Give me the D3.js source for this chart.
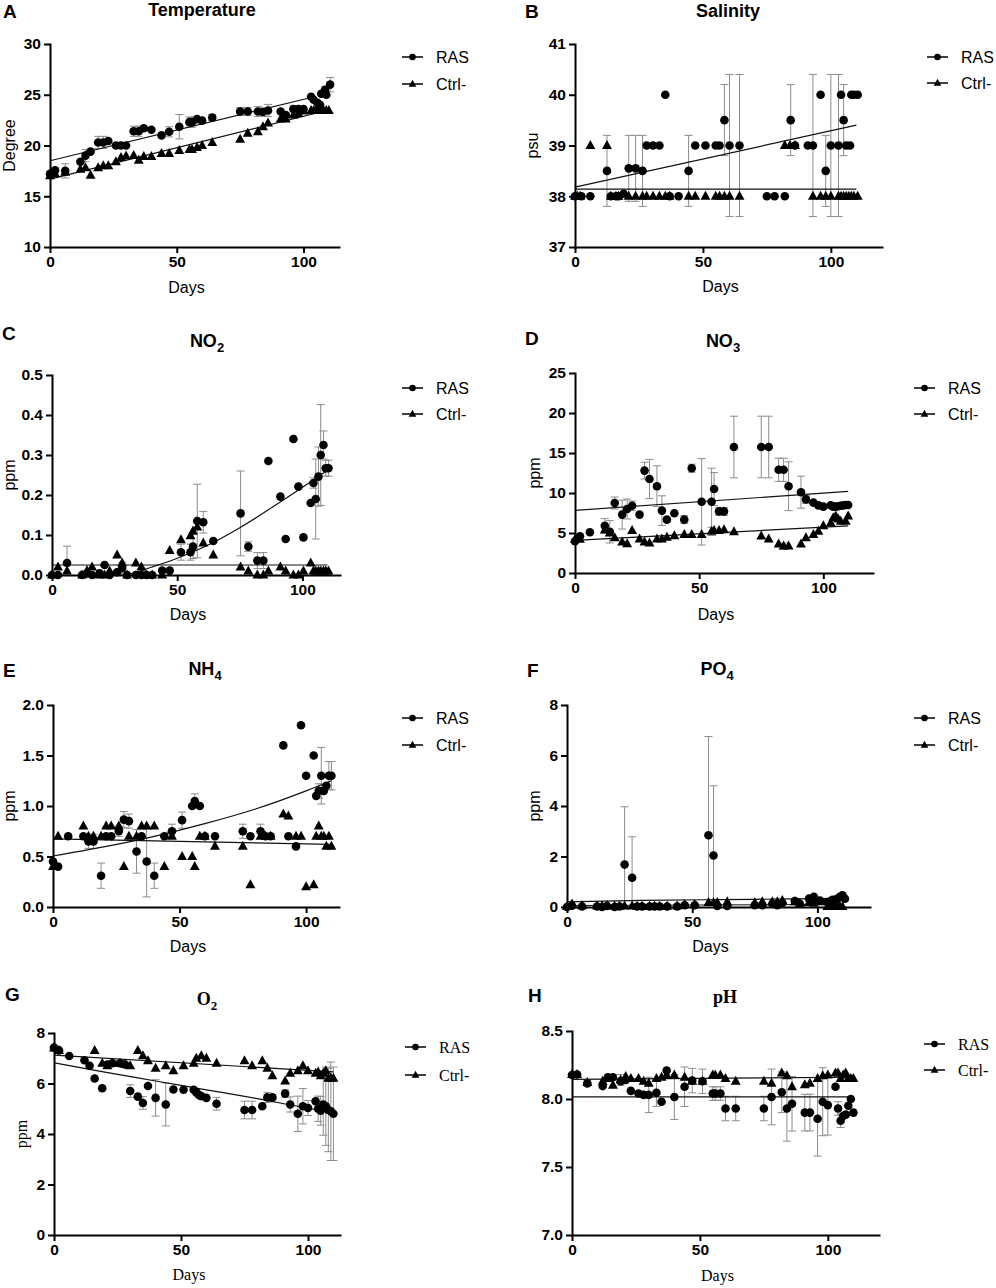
<!DOCTYPE html>
<html>
<head>
<meta charset="utf-8">
<script src="https://cdn.jsdelivr.net/npm/d3@7"></script>
<style>
  body { margin: 0; background: #fff; }
</style>
</head>
<body>
<svg width="996" height="1288"></svg>
<script>
// ---- data: [day, mean, sd] ----
const xTicks = [0, 50, 100];

const tempRAS = [[0,17.2,0.3],[2,17.55],[6,17.5,0.7],[12,18.4],[14,19.0,0.6],[16,19.4],[19,20.3,0.6],[21,20.3,0.6],[23,20.45],[26,20.0],[28,20.0],[30,20.0],[33,21.4,0.5],[35,21.4,0.5],[37,21.7],[40,21.55],[44,21.0],[47,21.35,0.5],[51,21.85,1.2],[55,22.3,0.5],[56,22.3,0.5],[58,22.6],[60,22.45],[64,22.75,0.3],[75,23.35,0.4],[78,23.35,0.4],[82,23.35,0.5],[84,23.3,0.4],[86,23.45,0.6],[91,23.35],[93,23.0],[96,23.6,0.3],[98,23.6],[100,23.6],[103,24.8],[104,24.5],[105.5,24.2],[106.5,24.0],[107,25.1],[108.5,25.5,0.3],[109,25.0],[110.5,26.0,0.7]];
const tempCtrl = [[0,17.0],[2,17.2],[6,17.35],[12,17.65],[14,17.8],[16,17.05],[19,17.8],[21,18.0],[23,18.0],[26,18.4],[28,18.8],[30,18.95],[33,19.0],[35,18.55],[37,18.9],[40,18.9],[44,19.2],[47,19.2],[51,19.5],[55,19.6],[56,19.6],[58,19.8],[60,20.0],[64,20.3],[75,20.6],[78,21.2],[82,21.35],[84,21.85],[86,22.2],[91,22.6],[93,22.6],[96,23.0],[98,23.15],[100,23.4],[103,23.45],[104,23.45],[105,23.45],[106,23.45],[107,23.45],[108,23.45],[109,23.45],[110,23.45]];
const tempRASFit = [[0,18.5],[103.5,24.75]];
const tempCtrlFit = [[0,16.68],[110,23.5]];
const tempTicks = [10, 15, 20, 25, 30];

const salRAS = [[0,38],[2.5,38],[6,38],[12.5,38.5,0.7],[14,38],[16,38],[17,38],[19,38.05],[21,38.55,0.65],[23.7,38.55,0.65],[26.4,38.5,0.7],[28,39],[30.5,39],[33,39],[35.3,40],[37,38],[40.5,38],[44.4,38.5,0.7],[47,39],[51,39],[55,39],[56.5,39],[58.4,39.5,0.7],[60.4,39,1.4],[64.3,39,1.4],[75,38],[78,38],[82,38],[84.3,39.5,0.7],[86,39],[91,39],[93,39,1.4],[96,40],[98,38.5,0.7],[100,39,1.4],[103,39,1.4],[104,40],[105,39.5,0.7],[106,39],[107.5,39],[108,40],[109,40],[110.5,40]];
const salCtrl = [[0,38],[1,38],[2,38],[6,39],[12.5,39],[14,38],[16,38],[17,38],[21,38],[23.7,38],[26.4,38],[28,38],[30.5,38],[33,38],[35.3,38],[37,38],[44.4,38],[47,38],[51,38],[55,38],[56.5,38],[58.4,38],[60.4,38],[64.3,38],[82,39],[84,39],[86,39],[93,38],[96,38],[98,38],[100,38],[103,38],[104,38],[105,38],[106,38],[107,38],[108,38],[109,38],[110.5,38]];
const salRASFit = [[0,38.18],[110,39.4]];
const salCtrlFit = [[0,38.14],[110,38.14]];
const salTicks = [37, 38, 39, 40, 41];

const no2RAS = [[0,0],[2.4,0],[6,0.03,0.042],[12,0],[14,0.004],[16,0],[19,0.004],[21,0.025],[23,0],[26,0.007],[28,0.017,0.015],[30,0],[33.5,0],[35.7,0],[37.7,0],[40,0],[44,0.011],[47,0.011],[51.5,0.057,0.02],[55.3,0.057,0.02],[56.3,0.071,0.03],[58,0.135,0.092],[60.4,0.132,0.027],[64.4,0.085],[75.3,0.154,0.106],[78.4,0.071,0.012],[82,0.036,0.02],[84.4,0.036,0.02],[86.4,0.285],[91.2,0.196],[93.3,0.09],[96.4,0.34],[98.4,0.221],[100.4,0.094],[103.3,0.18],[104.4,0.23,0.013],[105.3,0.19,0.1],[106.4,0.246,0.074],[107.3,0.30,0.126],[108.4,0.325,0.035],[109.3,0.267,0.02],[110.4,0.267,0.02]];
const no2Ctrl = [[0,0],[2.4,0.02],[6,0.01],[12,0],[14,0.011],[16,0.02],[19,0],[21,0],[23,0.01],[26,0.05],[28,0.03],[30,0],[33.5,0.03],[35.7,0.02],[37.7,0],[40,0],[44,0],[47,0.061],[51.5,0.088],[55.3,0.098],[56.3,0.11],[58,0.12],[60.4,0.08],[64.4,0.05],[75.3,0.02],[78.4,0.01],[82,0],[84.4,0],[86.4,0.01],[91.2,0.02],[93.3,0.01],[96.4,0],[98.4,0],[100.4,0.01],[103.3,0.03],[104.4,0.01],[105.3,0.01],[106.4,0.01],[107.3,0.01],[108.4,0.01],[109.3,0.01],[110.4,0.01]];
const no2RASFit = [[30,0.0],[40,0.02],[50,0.042],[64,0.08],[75,0.118],[91,0.182],[103,0.232],[110,0.262]];
const no2CtrlFit = [[0,0.025],[110,0.025]];
const no2Ticks = [0, 0.1, 0.2, 0.3, 0.4, 0.5];

const no3RAS = [[0,3.96],[2,4.6],[6,5.1],[12,5.9,0.9],[14,5.15,1.4],[16,8.75,0.75],[19,7.3,1.8],[21,8.0,1.25],[23,8.4,0.6],[26,7.3],[28,12.8,1.05],[30,11.75,2.45],[33,10.85,2.55],[35,7.8,1.85],[37,6.67],[40,7.46],[44,6.67,0.5],[47,13.1,0.5],[51,8.9,5.4],[55,8.9,4.2],[56,10.5,2.05],[58,7.7,0.5],[60,7.7,0.5],[64,15.75,3.85],[75,15.75,3.85],[78,15.75,3.85],[82,12.9,1.45],[84,12.9,1.45],[86,10.85,3.05],[91,10.1,2.0],[93,9.2,0.5],[96,8.8],[98,8.45],[100,8.3,0.3],[103,8.45],[104,8.3],[105,8.3],[106,8.35],[107,8.4],[108,8.45],[109,8.5],[110,8.5]];
const no3Ctrl = [[0,4.2],[2,4.2],[12,5.35],[14,5.0],[16,4.4],[19,3.85],[21,3.65],[23,5.3],[26,4.25],[28,3.85],[30,3.75],[33,4.25],[35,4.25],[37,4.45],[40,4.65],[44,4.8],[47,4.8],[51,4.8],[55,5.2,0.5],[56,5.3],[58,5.3],[60,5.4],[64,5.15],[75,4.6],[78,4.25],[82,3.6],[84,3.35,0.4],[86,3.35],[91,3.6],[93,4.4],[96,4.8],[98,5.2],[100,5.9],[103,6.25],[104,6.9],[105,7.1],[106,6.75],[107,6.45],[109,6.45],[110,7.1]];
const no3RASFit = [[0,7.83],[110,10.2]];
const no3CtrlFit = [[0,4.08],[110,5.9]];
const no3Ticks = [0, 5, 10, 15, 20, 25];

const nh4RAS = [[0,0.45],[2,0.40],[6,0.70],[12,0.70],[14,0.65,0.07],[16,0.65,0.07],[19,0.31,0.125],[21,0.70],[23,0.70],[26,0.75,0.05],[28,0.865,0.08],[30,0.85,0.07],[33,0.55,0.215],[35,0.70],[37,0.45,0.35],[40,0.31,0.125],[44,0.70],[47,0.75,0.07],[51,0.86,0.08],[55,1.0],[56,1.05,0.07],[58,1.0],[60,0.70],[64,0.70],[75,0.75,0.07],[78,0.70],[82,0.75,0.07],[84,0.70],[86,0.70],[91,1.6],[93,0.70],[96,0.60],[98,1.8],[100,1.3],[103,1.5],[104,1.1],[105,1.15,0.07],[106,1.3,0.28],[107,1.15],[108,1.2],[109,1.3,0.14],[110,1.3,0.14]];
const nh4Ctrl = [[0,0.4],[2,0.7],[12,0.8],[14,0.7],[16,0.7],[19,0.7],[21,0.8],[23,0.8],[26,0.8],[28,0.4],[30,0.7],[33,0.7],[35,0.8],[37,0.8],[40,0.8],[44,0.4],[47,0.7],[51,0.5],[55,0.5],[56,0.4],[58,0.7],[60,0.7],[64,0.6],[75,0.6],[78,0.22],[82,0.7],[84,0.7],[86,0.7],[91,0.92],[93,0.9],[96,0.7],[98,0.7],[100,0.2],[103,0.22],[104,0.7],[105,0.8],[106,0.7],[107,0.7],[108,0.6],[109,0.7],[110,0.6]];
const nh4RASFit = [[0,0.505],[20,0.595],[40,0.70],[60,0.825],[80,0.97],[100,1.15],[110,1.25]];
const nh4CtrlFit = [[0,0.675],[110,0.62]];
const nh4Ticks = [0, 0.5, 1.0, 1.5, 2.0];

const po4RAS = [[0,0],[2,0.05],[6,0.02],[12,0.02],[14,0],[16,0.04],[19,0],[21,0.02],[23,1.68,2.29],[26,1.16,1.62],[28,0.02],[30,0.02],[33,0.02],[35,0.02],[37,0.02],[40,0.02],[44,0.02],[47,0.07],[51,0.07],[56.5,2.84,3.91],[58.5,2.04,2.76],[60,0.04],[64,0.04],[75,0.07],[78,0.07],[82,0.13],[84,0.07],[86,0.16],[91,0.24],[93,0.13],[96.6,0.33],[98.6,0.4],[101,0.26],[104,0.2],[105,0.22],[106,0.29],[107,0.29],[108,0.33],[109,0.4],[110,0.46],[111,0.33]];
const po4Ctrl = [[0,0.02],[2,0.12],[6,0.05],[12,0.04],[14,0.04],[16,0.05],[19,0.03],[21,0.03],[23,0.04],[26,0.04],[28,0.03],[30,0.03],[33,0.03],[35,0.03],[37,0.03],[40,0.03],[44,0.04],[47,0.1],[51,0.1],[56.5,0.18],[58.5,0.18],[60,0.18],[64,0.2],[75,0.17],[78,0.2],[82,0.2],[84,0.2],[86,0.25],[91,0.2],[93,0.15],[96.6,0.18],[98.6,0.15],[101,0.2],[104,0.02],[105,0.02],[106,0.02],[107,0.02],[108,0.02],[109,0.02],[110,0.02]];
const po4RASFit = [[0,0.2],[30,0.26],[60,0.29],[90,0.32],[110,0.34]];
const po4CtrlFit = [[0,0.06],[110,0.1]];
const po4Ticks = [0, 2, 4, 6, 8];

const o2RAS = [[0,7.42],[2,7.31],[6,7.09],[12,6.92],[14,6.7],[16,6.2],[19,5.81],[21,6.75],[23,6.8],[26,6.8],[28,6.75],[30,5.7,0.25],[33,5.48],[35,5.23,0.25],[37,5.9],[40,5.43,0.72],[44,5.17,0.85],[47,5.76],[51,5.75],[55,5.75],[56,5.65],[57,5.55],[58,5.5],[60,5.43],[64,5.2,0.25],[75,4.95,0.35],[78,4.95,0.35],[82,5.1],[84,5.45,0.2],[86,5.45],[91,5.6,0.15],[93,5.17,0.3],[96,4.8,0.7],[98,5.1,0.7],[100,5.03,0.3],[103,5.3],[104,5.0,0.5],[105,4.92,0.57],[106,5.17,1.22],[107,5.1,1.55],[108,4.95,1.65],[109,4.9,1.95],[110,4.8,1.85]];
const o2Ctrl = [[0,7.4],[2,7.3],[16,7.3],[19,6.8],[21,6.7],[23,6.8],[26,6.8],[28,6.75],[30,6.7],[33,7.3],[35,7.1],[37,6.9],[40,6.6],[44,6.7],[47,6.5],[51,6.7],[55,6.8],[56,7.0],[58,7.1],[60,7.0],[64,6.8],[75,6.9],[78,6.7],[82,6.9],[84,6.6],[86,6.3],[91,6.1],[93,6.4],[96,6.5],[98,6.7],[100,6.5],[103,6.4],[104,6.45],[105,6.3],[106,6.4],[107,6.5],[108,6.2],[109,6.2],[110,6.2]];
const o2RASFit = [[0,6.82],[20,6.45],[40,6.1],[60,5.75],[80,5.4],[100,5.02],[110,4.85]];
const o2CtrlFit = [[0,7.12],[110,6.46]];
const o2Ticks = [0, 2, 4, 6, 8];

const phRAS = [[0,8.177],[2,8.18],[6,8.115],[12,8.095],[14,8.16],[16,8.16],[19,8.13],[21,8.14],[23,8.06],[26,8.04],[28,8.03],[30,8.03,0.13],[33,8.046,0.1],[35,7.98],[37,8.21],[40,8.015,0.165],[44,8.09,0.145],[47,8.135,0.09],[51,8.13,0.09],[55,8.04,0.05],[56,8.04,0.05],[58,8.04,0.05],[60,7.93,0.09],[64,7.93,0.09],[75,7.93,0.09],[78,8.015,0.205],[82,8.05,0.15],[84,7.93,0.24],[86,7.965,0.2],[91,7.9,0.135],[93,7.9,0.135],[96,7.855,0.275],[98,7.98,0.25],[100,7.955,0.22],[103,8.09],[104,7.93,0.05],[105,7.84,0.05],[106,7.875],[107,7.885],[108,7.95],[109,8.0],[110,7.9]];
const phCtrl = [[0,8.18],[2,8.18],[6,8.12],[12,8.13],[14,8.15],[16,8.1],[19,8.14,0.04],[21,8.165],[23,8.15],[26,8.15],[28,8.13],[30,8.115],[33,8.15],[35,8.16],[37,8.175],[40,8.175],[44,8.16],[47,8.13],[51,8.13],[55,8.175],[56,8.175],[58,8.175],[60,8.15],[64,8.13],[75,8.13],[78,8.115],[82,8.19],[84,8.17],[86,8.09],[91,8.105],[93,8.115],[96,8.15],[98,8.17],[100,8.175],[103,8.19],[104,8.19],[105,8.15],[106,8.175],[107,8.19],[108,8.15],[109,8.15],[110,8.15]];
const phRASFit = [[0,8.015],[110,8.015]];
const phCtrlFit = [[0,8.145],[110,8.16]];
const phTicks = [7.0, 7.5, 8.0, 8.5];

const seriesNames = ['RAS', 'Ctrl-'];

// ---- layout ----
const SANS = '"Liberation Sans", Arial, sans-serif';
const SERIF = '"Liberation Serif", "Times New Roman", serif';
const svg = d3.select('svg');

const panels = [
  { letter: 'A', letterPos: [3, 18], title: 'Temperature', sub: '', titlePos: [202, 16],
    ras: tempRAS, ctrl: tempCtrl, rasFit: tempRASFit, ctrlFit: tempCtrlFit,
    yTicks: tempTicks, fmt: d3.format('d'), ylabel: 'Degree', ylabelX: 15,
    box: { l: 50, r: 339, t: 44, b: 247 }, xMax: 114, daysY: 293, leg: [402, 57, 84], serif: false },
  { letter: 'B', letterPos: [525, 18], title: 'Salinity', sub: '', titlePos: [728, 17],
    ras: salRAS, ctrl: salCtrl, rasFit: salRASFit, ctrlFit: salCtrlFit,
    yTicks: salTicks, fmt: d3.format('d'), ylabel: 'psu', ylabelX: 538,
    box: { l: 575, r: 882, t: 44, b: 247 }, xMax: 120, daysY: 292, leg: [927, 57, 83], serif: false },
  { letter: 'C', letterPos: [2, 340], title: 'NO', sub: '2', titlePos: [207, 347],
    ras: no2RAS, ctrl: no2Ctrl, rasFit: no2RASFit, ctrlFit: no2CtrlFit,
    yTicks: no2Ticks, fmt: d3.format('.1f'), ylabel: 'ppm', ylabelX: 15,
    box: { l: 52, r: 340, t: 375, b: 575 }, xMax: 115, daysY: 620, leg: [402, 388, 414], serif: false },
  { letter: 'D', letterPos: [525, 345], title: 'NO', sub: '3', titlePos: [723, 347],
    ras: no3RAS, ctrl: no3Ctrl, rasFit: no3RASFit, ctrlFit: no3CtrlFit,
    yTicks: no3Ticks, fmt: d3.format('d'), ylabel: 'ppm', ylabelX: 540,
    box: { l: 575, r: 873, t: 373, b: 573 }, xMax: 120, daysY: 620, leg: [914, 388, 414], serif: false },
  { letter: 'E', letterPos: [3, 677], title: 'NH', sub: '4', titlePos: [205, 675],
    ras: nh4RAS, ctrl: nh4Ctrl, rasFit: nh4RASFit, ctrlFit: nh4CtrlFit,
    yTicks: nh4Ticks, fmt: d3.format('.1f'), ylabel: 'ppm', ylabelX: 15,
    box: { l: 53, r: 339, t: 705, b: 907 }, xMax: 113, daysY: 952, leg: [402, 718, 745], serif: false },
  { letter: 'F', letterPos: [527, 677], title: 'PO', sub: '4', titlePos: [717, 675],
    ras: po4RAS, ctrl: po4Ctrl, rasFit: po4RASFit, ctrlFit: po4CtrlFit,
    yTicks: po4Ticks, fmt: d3.format('d'), ylabel: 'ppm', ylabelX: 540,
    box: { l: 567, r: 870, t: 705, b: 907 }, xMax: 121, daysY: 952, leg: [914, 718, 745], serif: false },
  { letter: 'G', letterPos: [5, 1001], title: 'O', sub: '2', titlePos: [207, 1005],
    ras: o2RAS, ctrl: o2Ctrl, rasFit: o2RASFit, ctrlFit: o2CtrlFit,
    yTicks: o2Ticks, fmt: d3.format('d'), ylabel: 'ppm', ylabelX: 27,
    box: { l: 54, r: 340, t: 1033, b: 1235 }, xMax: 112.6, daysY: 1280, leg: [405, 1047, 1075], serif: true },
  { letter: 'H', letterPos: [528, 1002], title: 'pH', sub: '', titlePos: [725, 1003],
    ras: phRAS, ctrl: phCtrl, rasFit: phRASFit, ctrlFit: phCtrlFit,
    yTicks: phTicks, fmt: d3.format('.1f'), ylabel: '', ylabelX: 0,
    box: { l: 572, r: 879, t: 1031, b: 1235 }, xMax: 120, daysY: 1281, leg: [924, 1044, 1070], serif: true }
];

const triPath = s => `M0,${-s * 0.62}L${s * 0.55},${s * 0.38}L${-s * 0.55},${s * 0.38}Z`;

function drawPanel(p) {
  const yDom = d3.extent(p.yTicks);
  const x = d3.scaleLinear().domain([0, p.xMax]).range([p.box.l, p.box.r]);
  const y = d3.scaleLinear().domain(yDom).range([p.box.b, p.box.t]);
  const g = svg.append('g');
  const textFont = p.serif ? SERIF : SANS;

  // error bars
  const eb = g.append('g').attr('stroke', '#8c8c8c').attr('stroke-width', 1).attr('fill', 'none');
  [p.ras, p.ctrl].forEach(series => {
    series.filter(d => d[2]).forEach(d => {
      const lo = y(Math.max(yDom[0], d[1] - d[2]));
      const hi = y(Math.min(yDom[1], d[1] + d[2]));
      const cx = x(d[0]);
      eb.append('line').attr('x1', cx).attr('x2', cx).attr('y1', lo).attr('y2', hi);
      eb.append('line').attr('x1', cx - 4).attr('x2', cx + 4).attr('y1', hi).attr('y2', hi);
      if (d[1] - d[2] > yDom[0]) {
        eb.append('line').attr('x1', cx - 4).attr('x2', cx + 4).attr('y1', lo).attr('y2', lo);
      }
    });
  });

  // fit lines
  const line = d3.line().x(d => x(d[0])).y(d => y(d[1])).curve(d3.curveMonotoneX);
  [p.rasFit, p.ctrlFit].forEach(f => {
    g.append('path').datum(f).attr('d', line)
      .attr('fill', 'none').attr('stroke', '#111').attr('stroke-width', 1.2);
  });

  // markers
  g.append('g').selectAll('path').data(p.ctrl).join('path')
    .attr('transform', d => `translate(${x(d[0])},${y(d[1])})`)
    .attr('d', triPath(9)).attr('fill', '#000');
  g.append('g').selectAll('circle').data(p.ras).join('circle')
    .attr('cx', d => x(d[0])).attr('cy', d => y(d[1])).attr('r', 4.3).attr('fill', '#000');

  // axes
  const xAxis = d3.axisBottom(x).tickValues(xTicks).tickSize(6).tickSizeOuter(0).tickPadding(3);
  const yAxis = d3.axisLeft(y).tickValues(p.yTicks).tickFormat(p.fmt).tickSize(6).tickSizeOuter(0).tickPadding(3);
  const xg = g.append('g').attr('transform', `translate(0,${p.box.b})`).call(xAxis);
  const yg = g.append('g').attr('transform', `translate(${p.box.l},0)`).call(yAxis);
  [xg, yg].forEach(a => {
    a.select('.domain').attr('stroke-width', 2).attr('stroke-linecap', 'square');
    a.selectAll('.tick line').attr('stroke-width', 2);
    a.selectAll('.tick text').attr('font-family', SANS).attr('font-weight', 'bold')
      .attr('font-size', 15.5).attr('fill', '#000');
  });

  // panel letter
  svg.append('text').attr('x', p.letterPos[0]).attr('y', p.letterPos[1])
    .attr('font-family', SANS).attr('font-weight', 'bold').attr('font-size', 19).text(p.letter);

  // title with optional subscript
  const t = svg.append('text').attr('x', p.titlePos[0]).attr('y', p.titlePos[1])
    .attr('text-anchor', 'middle').attr('font-family', textFont)
    .attr('font-weight', 'bold').attr('font-size', 18);
  t.append('tspan').text(p.title);
  if (p.sub) t.append('tspan').attr('font-size', 13).attr('dy', 5).text(p.sub);

  // axis labels
  svg.append('text').attr('x', (p.box.l + p.box.r) / 2 - 8).attr('y', p.daysY)
    .attr('text-anchor', 'middle').attr('font-family', textFont).attr('font-size', 16).text('Days');
  if (p.ylabel) {
    svg.append('text')
      .attr('transform', `translate(${p.ylabelX},${(p.box.t + p.box.b) / 2}) rotate(-90)`)
      .attr('text-anchor', 'middle').attr('font-family', textFont).attr('font-size', 16).text(p.ylabel);
  }

  // legend
  const lg = svg.append('g').attr('transform', `translate(${p.leg[0]},0)`);
  seriesNames.forEach((name, i) => {
    const ly = p.leg[1 + i];
    lg.append('line').attr('x1', 0).attr('x2', 21).attr('y1', ly).attr('y2', ly)
      .attr('stroke', '#000').attr('stroke-width', 1.5);
    if (i === 0) lg.append('circle').attr('cx', 10.5).attr('cy', ly).attr('r', 3.3).attr('fill', '#000');
    else lg.append('path').attr('transform', `translate(10.5,${ly})`).attr('d', triPath(7)).attr('fill', '#000');
    lg.append('text').attr('x', 34).attr('y', ly).attr('dy', '0.36em')
      .attr('font-family', textFont).attr('font-size', 16).text(name);
  });
}

panels.forEach(drawPanel);
</script>
</body>
</html>
